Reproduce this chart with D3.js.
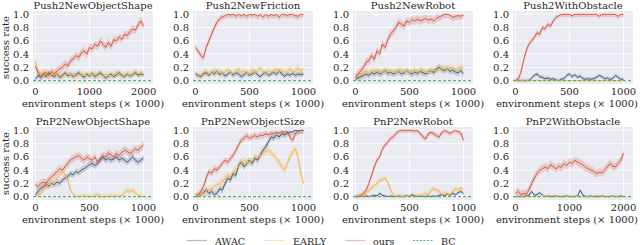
<!DOCTYPE html>
<html>
<head>
<meta charset="utf-8">
<script src="https://cdn.jsdelivr.net/npm/d3@7"></script>
<style>
  body { margin: 0; background: #fff; }
  svg { display: block; }
  text { font-family: "DejaVu Serif", serif; fill: #262626; }
</style>
</head>
<body>
<svg id="chart" width="640" height="245"></svg>
<script>
// panels, row by row
const titles = ["Push2NewObjectShape", "Push2NewFriction", "Push2NewRobot", "Push2WithObstacle",
                "PnP2NewObjectShape", "PnP2NewObjectSize", "PnP2NewRobot", "PnP2WithObstacle"];
const longRun = [true, false, false, false, false, false, false, true];

// evaluation steps (x 1000)
const stepsShort = d3.range(0, 1001, 25);
const stepsLong = d3.range(0, 2001, 50);
const xTicksShort = [0, 500, 1000];
const xTicksLong = [0, 1000, 2000];
const yTicks = [0, 0.2, 0.4, 0.6, 0.8, 1.0];

const methods = ["AWAC", "EARLY", "ours", "BC"];
const colors = {AWAC: "#3f5d78", EARLY: "#f6b443", ours: "#d5583a", BC: "#5cb85c"};

// success rate, ours
const ours = [
  [0.22,0.12,0.06,0.1,0.12,0.08,0.14,0.1,0.15,0.18,0.2,0.25,0.22,0.3,0.33,0.38,0.35,0.42,0.45,0.4,0.5,0.48,0.55,0.52,0.6,0.55,0.5,0.58,0.52,0.62,0.6,0.66,0.62,0.7,0.68,0.74,0.78,0.76,0.84,0.9,0.82],
  [0.5,0.45,0.38,0.35,0.5,0.6,0.7,0.8,0.88,0.93,0.96,0.98,1.0,0.99,1.0,0.97,1.0,0.98,1.0,0.97,1.0,0.99,1.0,0.97,1.0,0.96,1.0,0.97,1.0,0.98,1.0,0.96,1.0,1.0,0.98,1.0,1.0,0.98,0.97,1.0,1.0],
  [0.05,0.1,0.15,0.2,0.28,0.3,0.38,0.32,0.45,0.4,0.55,0.5,0.62,0.7,0.75,0.8,0.88,0.85,0.82,0.9,0.88,0.92,0.9,0.93,0.9,0.92,0.94,0.91,0.93,0.9,0.94,0.96,0.98,1.0,1.0,0.99,0.95,0.97,0.98,0.97,0.99],
  [0.0,0.02,0.12,0.3,0.45,0.55,0.6,0.65,0.72,0.7,0.8,0.78,0.85,0.82,0.9,0.95,0.98,1.0,1.0,1.0,1.0,0.98,1.0,1.0,1.0,1.0,1.0,1.0,1.0,1.0,1.0,0.97,1.0,1.0,1.0,1.0,1.0,1.0,0.97,1.0,1.0],
  [0.18,0.15,0.2,0.22,0.2,0.26,0.3,0.33,0.38,0.42,0.4,0.45,0.5,0.55,0.58,0.6,0.62,0.58,0.55,0.6,0.57,0.55,0.6,0.52,0.58,0.62,0.6,0.66,0.63,0.6,0.65,0.62,0.67,0.7,0.68,0.65,0.68,0.72,0.7,0.74,0.78],
  [0.0,0.02,0.08,0.15,0.28,0.38,0.35,0.42,0.4,0.45,0.5,0.55,0.52,0.58,0.62,0.7,0.78,0.85,0.88,0.92,0.88,0.9,0.92,0.9,0.93,0.92,0.95,0.93,0.96,0.95,0.97,0.96,0.98,0.97,0.98,0.9,0.85,0.95,0.98,1.0,1.0],
  [0.0,0.0,0.02,0.05,0.1,0.2,0.32,0.45,0.55,0.6,0.72,0.78,0.82,0.88,0.9,0.95,0.99,1.0,1.0,1.0,1.0,1.0,0.99,1.0,0.95,0.9,0.87,0.95,0.97,0.95,0.92,0.9,0.97,1.0,0.98,0.95,0.98,1.0,0.98,0.96,0.85],
  [0.05,0.08,0.03,0.05,0.04,0.1,0.2,0.28,0.35,0.4,0.42,0.45,0.42,0.48,0.45,0.42,0.46,0.44,0.5,0.47,0.52,0.5,0.55,0.52,0.5,0.48,0.44,0.42,0.4,0.38,0.35,0.37,0.36,0.4,0.45,0.5,0.46,0.45,0.5,0.55,0.65]
];

// success rate, AWAC
const awac = [
  [0.02,0.08,0.05,0.1,0.06,0.12,0.08,0.06,0.1,0.05,0.08,0.12,0.07,0.1,0.06,0.09,0.12,0.08,0.05,0.1,0.07,0.11,0.06,0.09,0.12,0.08,0.04,0.07,0.1,0.06,0.09,0.12,0.08,0.06,0.1,0.07,0.09,0.12,0.08,0.1,0.09],
  [0.1,0.08,0.06,0.1,0.12,0.08,0.13,0.1,0.14,0.09,0.12,0.07,0.1,0.13,0.08,0.12,0.1,0.06,0.09,0.12,0.08,0.1,0.13,0.09,0.06,0.1,0.12,0.08,0.1,0.13,0.09,0.15,0.1,0.07,0.1,0.08,0.11,0.08,0.1,0.09,0.1],
  [0.02,0.04,0.06,0.08,0.1,0.08,0.12,0.1,0.13,0.1,0.12,0.15,0.11,0.13,0.1,0.12,0.14,0.1,0.12,0.15,0.12,0.1,0.13,0.11,0.14,0.12,0.1,0.13,0.15,0.12,0.18,0.2,0.17,0.15,0.18,0.14,0.16,0.13,0.12,0.15,0.11],
  [0.0,0.0,0.0,0.0,0.0,0.0,0.04,0.08,0.1,0.06,0.05,0.03,0.04,0.02,0.03,0.01,0.0,0.02,0.03,0.08,0.1,0.06,0.09,0.05,0.07,0.03,0.02,0.03,0.02,0.03,0.05,0.08,0.06,0.03,0.04,0.02,0.03,0.08,0.05,0.02,0.02],
  [0.03,0.08,0.12,0.15,0.18,0.16,0.2,0.18,0.22,0.2,0.25,0.28,0.3,0.35,0.33,0.38,0.36,0.4,0.42,0.45,0.48,0.5,0.47,0.5,0.55,0.6,0.55,0.58,0.55,0.57,0.6,0.55,0.58,0.55,0.52,0.56,0.6,0.55,0.52,0.55,0.58],
  [0.0,0.0,0.03,0.06,0.1,0.05,0.08,0.03,0.05,0.12,0.1,0.2,0.28,0.25,0.35,0.32,0.48,0.52,0.45,0.5,0.55,0.5,0.58,0.55,0.62,0.7,0.75,0.82,0.9,0.88,0.93,0.9,0.95,0.93,0.96,0.97,0.98,1.0,0.99,1.0,1.0],
  [0.0,0.0,0.0,0.0,0.01,0.0,0.01,0.02,0.01,0.05,0.02,0.01,0.0,0.01,0.0,0.0,0.01,0.0,0.0,0.01,0.0,0.03,0.01,0.0,0.01,0.0,0.0,0.01,0.0,0.01,0.0,0.02,0.03,0.01,0.04,0.02,0.05,0.03,0.06,0.08,0.05],
  [0.0,0.0,0.0,0.0,0.01,0.02,0.08,0.02,0.03,0.06,0.02,0.0,0.01,0.0,0.0,0.01,0.0,0.0,0.0,0.01,0.0,0.0,0.0,0.01,0.1,0.02,0.0,0.0,0.01,0.0,0.0,0.0,0.01,0.0,0.0,0.0,0.01,0.0,0.0,0.01,0.0]
];

// success rate, EARLY
const early = [
  [0.3,0.1,0.12,0.08,0.1,0.06,0.11,0.13,0.08,0.1,0.06,0.09,0.12,0.08,0.1,0.06,0.08,0.11,0.09,0.07,0.1,0.08,0.12,0.07,0.09,0.06,0.1,0.08,0.07,0.1,0.12,0.08,0.06,0.09,0.11,0.08,0.1,0.14,0.1,0.12,0.1],
  [0.1,0.06,0.08,0.12,0.14,0.1,0.12,0.16,0.12,0.15,0.1,0.13,0.17,0.12,0.1,0.14,0.18,0.12,0.15,0.1,0.13,0.17,0.12,0.15,0.19,0.13,0.1,0.16,0.12,0.15,0.18,0.13,0.16,0.12,0.14,0.18,0.12,0.15,0.19,0.14,0.17],
  [0.05,0.08,0.1,0.12,0.15,0.12,0.14,0.16,0.13,0.15,0.12,0.14,0.16,0.13,0.15,0.12,0.14,0.17,0.13,0.15,0.12,0.14,0.16,0.13,0.15,0.17,0.14,0.12,0.15,0.17,0.14,0.16,0.19,0.2,0.17,0.2,0.18,0.15,0.19,0.21,0.2],
  [0.0,0.0,0.0,0.0,0.0,0.0,0.0,0.0,0.01,0.0,0.0,0.01,0.0,0.0,0.01,0.0,0.0,0.0,0.0,0.0,0.0,0.0,0.0,0.0,0.0,0.0,0.0,0.0,0.0,0.0,0.0,0.0,0.0,0.0,0.0,0.0,0.0,0.0,0.0,0.0,0.0],
  [0.0,0.02,0.05,0.1,0.15,0.2,0.18,0.22,0.28,0.33,0.37,0.35,0.25,0.1,0.03,0.0,0.0,0.0,0.01,0.0,0.0,0.0,0.01,0.03,0.0,0.0,0.0,0.0,0.01,0.0,0.01,0.0,0.02,0.06,0.1,0.08,0.1,0.05,0.02,0.0,0.0],
  [0.0,0.01,0.03,0.05,0.08,0.1,0.12,0.15,0.18,0.2,0.22,0.28,0.32,0.3,0.38,0.42,0.45,0.5,0.55,0.52,0.5,0.55,0.6,0.58,0.62,0.65,0.68,0.7,0.66,0.62,0.58,0.52,0.45,0.4,0.5,0.6,0.68,0.72,0.6,0.35,0.2],
  [0.0,0.0,0.0,0.02,0.05,0.1,0.13,0.17,0.2,0.24,0.26,0.28,0.22,0.1,0.03,0.0,0.0,0.0,0.0,0.0,0.01,0.0,0.0,0.02,0.0,0.03,0.05,0.03,0.1,0.12,0.1,0.08,0.03,0.05,0.04,0.03,0.08,0.12,0.1,0.13,0.1],
  [0.0,0.0,0.0,0.0,0.0,0.0,0.0,0.0,0.01,0.0,0.02,0.01,0.0,0.01,0.02,0.0,0.01,0.0,0.02,0.01,0.0,0.0,0.01,0.0,0.0,0.0,0.01,0.0,0.0,0.0,0.02,0.01,0.0,0.0,0.0,0.0,0.01,0.0,0.0,0.0,0.0]
];

// half-width of the shaded spread per panel
const oursSpread = [0.06, 0.05, 0.06, 0.04, 0.06, 0.05, 0.04, 0.06];
const awacSpread = [0.04, 0.04, 0.05, 0.03, 0.05, 0.05, 0.02, 0.02];
const earlySpread = [0.05, 0.05, 0.05, 0.01, 0.04, 0.06, 0.04, 0.01];

const svg = d3.select("#chart");
const colLeft = [33, 193, 353, 513];
const rowTop = [11, 127];
const pw = 120, ph = 73;

titles.forEach((title, i) => {
  const left = colLeft[i % 4], top = rowTop[Math.floor(i / 4)];
  const steps = longRun[i] ? stepsLong : stepsShort;
  const x = d3.scaleLinear()
    .domain(longRun[i] ? [-45, 2175] : [-22, 1088])
    .range([left, left + pw]);
  const y = d3.scaleLinear().domain([-0.05, 1.05]).range([top + ph, top]);

  const g = svg.append("g");
  g.append("rect").attr("x", left).attr("y", top).attr("width", pw).attr("height", ph).attr("fill", "#eaeaf2");

  const xt = longRun[i] ? xTicksLong : xTicksShort;
  g.selectAll(".gx").data(xt).enter().append("line")
    .attr("x1", d => x(d)).attr("x2", d => x(d)).attr("y1", top).attr("y2", top + ph)
    .attr("stroke", "#fff").attr("stroke-width", 0.8);
  g.selectAll(".gy").data(yTicks).enter().append("line")
    .attr("x1", left).attr("x2", left + pw).attr("y1", d => y(d)).attr("y2", d => y(d))
    .attr("stroke", "#fff").attr("stroke-width", 0.8);

  g.selectAll(".tx").data(xt).enter().append("text")
    .attr("x", d => x(d)).attr("y", top + ph + 11).attr("text-anchor", "middle")
    .attr("font-size", 10).text(d => d);
  g.selectAll(".ty").data(yTicks).enter().append("text")
    .attr("x", left - 4).attr("y", d => y(d) + 3.6).attr("text-anchor", "end")
    .attr("font-size", 10).text(d => d.toFixed(1));

  g.append("text").attr("x", left + pw / 2).attr("y", top - 1.6).attr("text-anchor", "middle")
    .attr("font-size", 10).text(title);
  const xl = g.append("text").attr("x", left + pw / 2).attr("y", top + ph + 23).attr("text-anchor", "middle")
    .attr("font-size", 10).text("environment steps (\u00d7 1000)");
  // keep the last column's label inside the picture
  const half = xl.node().getComputedTextLength() / 2;
  if (left + pw / 2 + half > 638) xl.attr("x", 638 - half);

  const series = [
    {name: "AWAC", vals: awac[i], sd: awacSpread[i]},
    {name: "EARLY", vals: early[i], sd: earlySpread[i]},
    {name: "ours", vals: ours[i], sd: oursSpread[i]}
  ];
  const area = d3.area().x(d => x(d[0]))
    .y0(d => y(Math.max(0, d[1] - d[2]))).y1(d => y(Math.min(1, d[1] + d[2])));
  const line = d3.line().x(d => x(d[0])).y(d => y(d[1]));

  series.forEach(s => {
    const pts = steps.map((st, k) => [st, s.vals[k], s.sd]);
    g.append("path").attr("d", area(pts)).attr("fill", colors[s.name]).attr("opacity", 0.22);
  });
  series.forEach(s => {
    const pts = steps.map((st, k) => [st, s.vals[k]]);
    g.append("path").attr("d", line(pts)).attr("fill", "none")
      .attr("stroke", colors[s.name]).attr("stroke-width", 1);
  });
  g.append("line").attr("x1", left).attr("x2", left + pw).attr("y1", y(0)).attr("y2", y(0))
    .attr("stroke", colors.BC).attr("stroke-width", 1.2).attr("stroke-dasharray", "3,2");
});

// y axis labels on the first column
rowTop.forEach(top => {
  svg.append("text").attr("transform", `translate(9,${top + ph / 2}) rotate(-90)`)
    .attr("text-anchor", "middle").attr("font-size", 10).text("success rate");
});

// legend
const legendX = [187, 265, 345, 413];
methods.forEach((m, k) => {
  const lg = svg.append("g");
  lg.append("line").attr("x1", legendX[k]).attr("x2", legendX[k] + 20).attr("y1", 240.5).attr("y2", 240.5)
    .attr("stroke", colors[m]).attr("stroke-width", 1.2).attr("opacity", m === "BC" ? 1 : 0.4)
    .attr("stroke-dasharray", m === "BC" ? "2,1.5" : null);
  lg.append("text").attr("x", legendX[k] + 28).attr("y", 244.5).attr("font-size", 9.6).text(m);
});
</script>
</body>
</html>
